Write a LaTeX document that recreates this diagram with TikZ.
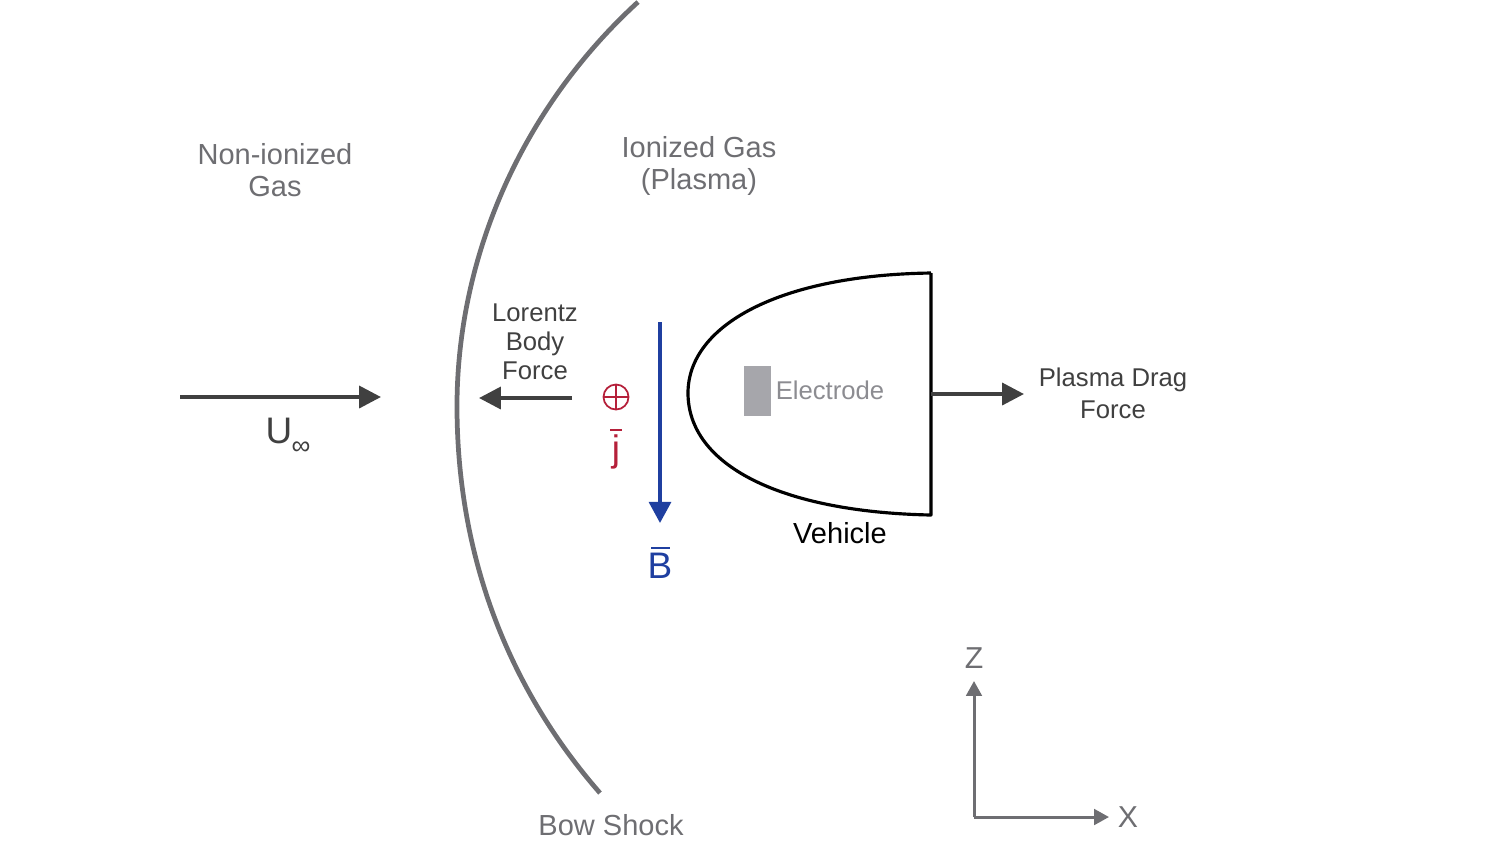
\documentclass[tikz,border=0pt]{standalone}
\usepackage{fontspec}
\setmainfont{Liberation Sans}
\usetikzlibrary{arrows.meta}
\definecolor{gt}{HTML}{6E6E72}
\definecolor{dk}{HTML}{404040}
\definecolor{rd}{HTML}{B5203A}
\definecolor{bl}{HTML}{1F3FA0}
\definecolor{elf}{HTML}{A6A6AB}
\definecolor{elt}{HTML}{8C8C91}
\tikzset{
 x=0.01cm,y=-0.01cm,
 lab/.style={font=\fontsize{8.25}{9.1}\selectfont,align=center,inner sep=0pt,text=gt},
 labd/.style={font=\fontsize{7.3}{8.25}\selectfont,align=center,inner sep=0pt,text=dk},
 flow/.style={line width=1.1pt,dk,-{Triangle[length=6.2pt,width=6.2pt]}},
 axis/.style={line width=0.85pt,gt,-{Triangle[length=4.2pt,width=4.4pt]}},
 sym/.style={inner sep=0pt,font=\fontsize{10.5}{12}\selectfont},
}
\begin{document}
\begin{tikzpicture}
\useasboundingbox (0,0) rectangle (1500,844);
% bow shock
\draw[gt,line width=1.35pt] (638,2) .. controls (520,110) and (456,260) .. (457,410) .. controls (458,560) and (510,690) .. (600,793);
% vehicle
\draw[black,line width=0.9pt,line join=round] (931,273) -- (931,515) .. controls (780,512) and (688,465) .. (688,393) .. controls (688,325) and (780,275) .. (931,273);
\node[fill=elf,minimum width=0.27cm,minimum height=0.5cm,inner sep=0pt] (el) at (757,391) {};
\node[labd,text=elt] (eltxt) at (830,390) {Electrode};
% labels
\node[lab] (non) at (275,170) {Non-ionized\\Gas};
\node[lab] (ion) at (699,166) {Ionized Gas\\(Plasma)};
\node[labd] (lor) at (535,342) {Lorentz\\Body\\Force};
\node[labd,font=\fontsize{7.3}{9.1}\selectfont] (drag) at (1113,393) {Plasma Drag\\Force};
\node[lab,text=black] (veh) at (840,533) {Vehicle};
\node[lab] (bow) at (611,825) {Bow Shock};
% free stream
\coordinate (u0) at (180,397); \coordinate (u1) at (381,397);
\draw[flow] (u0) -- (u1);
\node[sym,text=dk] (u) at (279,431) {U};
\node[inner sep=0pt,font=\fontsize{7.5}{8}\selectfont,text=dk] (inf) at (301,448) {∞};
% lorentz force
\coordinate (f0) at (572,398); \coordinate (f1) at (479,398);
\draw[flow] (f0) -- (f1);
% drag
\coordinate (d0) at (931,394); \coordinate (d1) at (1024,394);
\draw[flow] (d0) -- (d1);
% B
\coordinate (b0) at (660,322); \coordinate (b1) at (660,523);
\draw[bl,line width=1.05pt,-{Triangle[length=6pt,width=6.2pt]}] (b0) -- (b1);
\node[sym,text=bl] (b) at (660,566) {B};
\draw[bl,line width=0.8pt] (651,548) -- (670,548);
% j
\node[draw=rd,circle,line width=0.5pt,minimum size=0.25cm,inner sep=0pt] (cr) at (616,397) {};
\draw[rd,line width=0.5pt] (cr.north) -- (cr.south) (cr.west) -- (cr.east);
\node[sym,text=rd] (j) at (616,452) {j};
\draw[rd,line width=0.8pt] (610,430) -- (622,430);
% axes
\coordinate (o) at (974,817); \coordinate (zz) at (974,681); \coordinate (xx) at (1109,817);
\draw[axis] (o) -- (zz);
\draw[axis] (o) -- (xx);
\node[lab,font=\fontsize{8.6}{10}\selectfont] (z) at (974,658) {Z};
\node[lab,font=\fontsize{8.6}{10}\selectfont] (x) at (1128,817) {X};
\end{tikzpicture}
\end{document}
